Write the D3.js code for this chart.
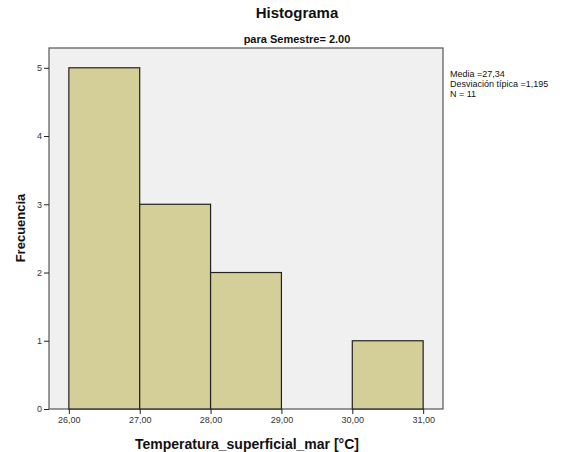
<!DOCTYPE html>
<html>
<head>
<meta charset="utf-8">
<script src="https://cdn.jsdelivr.net/npm/d3@7"></script>
<style>
  html, body { margin: 0; padding: 0; background: #fff; }
  svg { display: block; font-family: Arial, "Liberation Sans", sans-serif; }
</style>
</head>
<body>
<svg id="chart" width="576" height="452"></svg>
<script>
// Histogram bins (lower edge, upper edge) and counts
const binStarts = [26, 27, 28, 29, 30];
const binEnds = [27, 28, 29, 30, 31];
const counts = [5, 3, 2, 0, 1];
const xTicks = [26, 27, 28, 29, 30, 31];
const yTicks = [0, 1, 2, 3, 4, 5];
const statsLines = ["Media =27,34", "Desviación típica =1,195", "N = 11"];

const svg = d3.select("#chart");
const frame = { left: 49, right: 443, top: 48, bottom: 409 };

const x = d3.scaleLinear().domain([25.72, 31.28]).range([frame.left, frame.right]);
const y = d3.scaleLinear().domain([0, 5.29]).range([frame.bottom, frame.top]);

// Titles
svg.append("text").attr("x", 297).attr("y", 18).attr("text-anchor", "middle")
  .attr("font-size", 15).attr("font-weight", "bold").attr("fill", "#111").text("Histograma");
svg.append("text").attr("x", 297).attr("y", 43).attr("text-anchor", "middle")
  .attr("font-size", 11).attr("font-weight", "bold").attr("fill", "#111").text("para Semestre= 2.00");

// Plot background
svg.append("rect").attr("x", frame.left).attr("y", frame.top)
  .attr("width", frame.right - frame.left).attr("height", frame.bottom - frame.top)
  .attr("fill", "#f0f0f0").attr("stroke", "#555").attr("stroke-width", 1.2);

// Bars
const bins = counts.map((c, i) => ({ x0: binStarts[i], x1: binEnds[i], n: c })).filter(d => d.n > 0);
svg.append("g").selectAll("rect").data(bins).join("rect")
  .attr("x", d => x(d.x0)).attr("y", d => y(d.n))
  .attr("width", d => x(d.x1) - x(d.x0)).attr("height", d => y(0) - y(d.n))
  .attr("fill", "#d4cf98").attr("stroke", "#222").attr("stroke-width", 1.2);

// Axes
const xAxis = d3.axisBottom(x).tickValues(xTicks).tickSize(5).tickPadding(3)
  .tickFormat(d => d3.format(".2f")(d).replace(".", ","));
const gx = svg.append("g").attr("transform", `translate(0,${frame.bottom})`).call(xAxis);
gx.select(".domain").remove();
gx.selectAll("line").attr("stroke", "#222");
gx.selectAll("text").attr("font-size", 9).attr("fill", "#333").attr("font-family", "Arial, 'Liberation Sans', sans-serif");

const yAxis = d3.axisLeft(y).tickValues(yTicks).tickSize(5).tickPadding(2).tickFormat(d3.format("d"));
const gy = svg.append("g").attr("transform", `translate(${frame.left},0)`).call(yAxis);
gy.select(".domain").remove();
gy.selectAll("line").attr("stroke", "#222");
gy.selectAll("text").attr("font-size", 9).attr("fill", "#333").attr("font-family", "Arial, 'Liberation Sans', sans-serif");

// Axis titles
svg.append("text").attr("x", 247).attr("y", 449).attr("text-anchor", "middle")
  .attr("font-size", 14).attr("font-weight", "bold").attr("fill", "#111")
  .text("Temperatura_superficial_mar [°C]");
svg.append("text").attr("transform", "translate(25,228) rotate(-90)").attr("text-anchor", "middle")
  .attr("font-size", 13).attr("font-weight", "bold").attr("fill", "#111").text("Frecuencia");

// Summary statistics
svg.append("g").selectAll("text").data(statsLines).join("text")
  .attr("x", 450).attr("y", (d, i) => 77 + i * 10)
  .attr("font-size", 9).attr("fill", "#111").text(d => d);
</script>
</body>
</html>
